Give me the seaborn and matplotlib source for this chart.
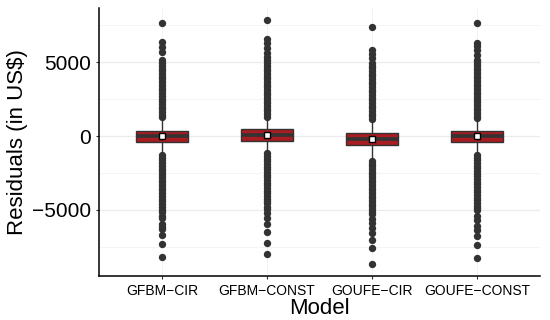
import numpy as np
import pandas as pd
import seaborn as sns
import matplotlib
matplotlib.use("Agg")
import matplotlib.pyplot as plt

# ---------------- data ----------------
models = ["GFBM-CIR", "GFBM-CONST", "GOUFE-CIR", "GOUFE-CONST"]
tick_labels = ["GFBM\u2212CIR", "GFBM\u2212CONST", "GOUFE\u2212CIR", "GOUFE\u2212CONST"]

# box summary statistics (US$)
whisker_low = [-1200, -1100, -1650, -1250]
q1 = [-385, -320, -590, -405]
median = [0, 80, -200, -20]
q3 = [360, 450, 180, 360]
whisker_high = [1200, 1250, 1100, 1150]
means = [10, 90, -200, -20]

# outliers (US$)
out_gfbm_cir = [1280, 1450, 1630, 1800, 1990, 2170, 2350, 2530, 2720, 2900, 3080,
                3270, 3450, 3640, 3820, 4000, 4190, 4370, 4560, 4740, 4930, 5130,
                5680, 6010, 6350, 7650,
                -1280, -1460, -1650, -1830, -2010, -2200, -2380, -2570, -2750,
                -2940, -3120, -3310, -3490, -3680, -3860, -4050, -4230, -4420,
                -4600, -4780,
                -5000, -5120, -5400, -5540, -5950, -6150, -6280, -6700, -7300, -8180]
out_gfbm_const = [1300, 1480, 1660, 1840, 2020, 2200, 2380, 2560, 2740, 2920, 3100,
                  3280, 3460, 3640, 3820, 4000, 4180, 4360, 4540, 4720, 4900, 5130,
                  5340, 5610, 5950, 6280, 6550, 7820,
                  -1170, -1350, -1530, -1710, -1890, -2070, -2250, -2430, -2610,
                  -2790, -2970, -3150, -3330, -3510, -3690, -3870, -4050, -4230,
                  -4400, -4530,
                  -4780, -4950, -5220, -5560, -5970, -6490, -7210, -8000]
out_goufe_cir = [1150, 1330, 1510, 1690, 1870, 2050, 2230, 2410, 2590, 2770, 2950,
                 3130, 3310, 3490, 3670, 3850, 4030, 4210, 4390, 4570, 4750, 4950,
                 5300, 5550, 5800, 7350,
                 -1700, -1880, -2060, -2240, -2420, -2600, -2780, -2960, -3140,
                 -3320, -3500, -3680, -3860, -4040, -4220, -4400, -4580, -4760,
                 -4940, -5120, -5300,
                 -5600, -5900, -6200, -6550, -7000, -7600, -8650]
out_goufe_const = [1200, 1380, 1560, 1740, 1920, 2100, 2280, 2460, 2640, 2820, 3000,
                   3180, 3360, 3540, 3720, 3900, 4080, 4260, 4440, 4620, 4800, 4970,
                   5130, 5480, 5800, 6050, 6260, 7610,
                   -1280, -1460, -1640, -1820, -2000, -2180, -2360, -2540, -2720,
                   -2900, -3080, -3260, -3440, -3620, -3800, -3980, -4160, -4340,
                   -4520, -4700, -4850, -5000,
                   -5400, -5680, -6060, -6350, -6760, -7380, -8220]
outliers = [out_gfbm_cir, out_gfbm_const, out_goufe_cir, out_goufe_const]

# ---------------- tables ----------------
box_rows = []
for m, lo, a, md, b, hi in zip(models, whisker_low, q1, median, q3, whisker_high):
    for v in (lo, a, md, b, hi):
        box_rows.append({"Model": m, "Residuals": v})
box_df = pd.DataFrame(box_rows)

out_df = pd.DataFrame([{"Model": m, "Residuals": v}
                       for m, vals in zip(models, outliers) for v in vals])
mean_df = pd.DataFrame({"Model": models, "Residuals": means})

# ---------------- plot ----------------
sns.set_theme(style="white")
plt.rcParams["font.family"] = ["Liberation Sans", "DejaVu Sans"]

fig = plt.figure(figsize=(5.5, 3.2), dpi=100)
ax = fig.add_axes([0.18, 0.1375, 0.802, 0.8375])

dark = "#333333"
ax.set_axisbelow(True)

sns.stripplot(data=out_df, x="Model", y="Residuals", order=models, jitter=False,
              color=dark, size=5.3, linewidth=0, ax=ax, zorder=2)

sns.boxplot(data=box_df, x="Model", y="Residuals", order=models,
            whis=(0, 100), width=0.5, showfliers=False, showcaps=False,
            color="#A81C22", saturation=1, linecolor=dark, linewidth=1.0,
            medianprops=dict(color=dark, linewidth=2.6),
            ax=ax, zorder=3)

sns.stripplot(data=mean_df, x="Model", y="Residuals", order=models, jitter=False,
              marker="s", color="white", edgecolor="black", linewidth=1.0,
              size=5, ax=ax, zorder=5)

ax.set_xlim(-0.6, 3.6)
ax.set_ylim(-9460, 8650)
ax.set_yticks([-5000, 0, 5000])
ax.set_yticklabels(["\u22125000", "0", "5000"])
ax.set_yticks([-7500, -2500, 2500, 7500], minor=True)
ax.set_xticks(range(len(models)))
ax.set_xticklabels(tick_labels)

ax.grid(axis="y", which="major", color="#EBEBEB", linewidth=0.9)
ax.grid(axis="y", which="minor", color="#F2F2F2", linewidth=0.6)
ax.grid(axis="x", which="major", color="#F2F2F2", linewidth=0.6)

for s in ["top", "right"]:
    ax.spines[s].set_visible(False)
for s in ["left", "bottom"]:
    ax.spines[s].set_color("black")
    ax.spines[s].set_linewidth(1.1)

ax.tick_params(axis="y", which="major", labelsize=15, length=2.5, width=0.8,
               color=dark, pad=3, left=True, labelcolor="black")
ax.tick_params(axis="y", which="minor", length=0)
ax.tick_params(axis="x", labelsize=10, length=2.5, width=0.8, color=dark, pad=3,
               bottom=True, labelcolor="black")

ax.set_xlabel("Model", fontsize=16, labelpad=0, color="black")
ax.set_ylabel("Residuals (in US$)", fontsize=16, labelpad=3, color="black")

fig.savefig("out.png", dpi=100)
